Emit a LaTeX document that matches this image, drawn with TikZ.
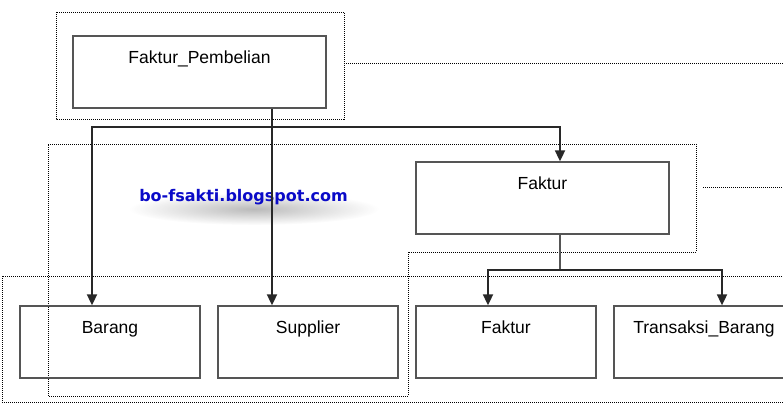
\documentclass[tikz,border=0pt]{standalone}
\usepackage{fontspec}
\setmainfont{Liberation Sans}
\newfontfamily\wmfont{DejaVu Sans}
\usetikzlibrary{arrows.meta,fadings}
\definecolor{boxc}{RGB}{85,85,85}
\definecolor{linec}{RGB}{40,40,40}
\definecolor{wmblue}{RGB}{10,10,200}
\tikzfading[name=fuzzyglow, inner color=transparent!0, outer color=transparent!100]
\begin{document}
\begin{tikzpicture}[x=1pt,y=-1pt,
  box/.style={draw=boxc, line width=1.3pt, inner sep=0pt, minimum height=72pt},
  lab/.style={anchor=center, yshift=-21.5pt, font=\fontsize{17.5}{20}\selectfont, text height=12.5pt, text depth=0pt, inner sep=0pt},
  grp/.style={draw=black, line width=0.9pt, dash pattern=on 1pt off 1pt},
  conn/.style={draw=linec, line width=1.8pt},
  arr/.style={conn, -{Triangle[width=10pt,length=11pt]}},
  wm/.style={font=\wmfont\bfseries\fontsize{16}{18}\selectfont, inner sep=0pt}]
\useasboundingbox (0,0) rectangle (783,411);
\clip (0,0) rectangle (783,411);

% dotted groups
\draw[grp] (56,12) rectangle (344,119);
\draw[grp] (48,144) -- (696,144) -- (696,252) -- (408,252) -- (408,396) -- (48,396) -- cycle;
\draw[grp] (2,276) rectangle (800,402);
\coordinate (g1e) at (344,63);
\coordinate (g1x) at (783,63);
\coordinate (g2e) at (703,187);
\coordinate (g2x) at (783,187);
\draw[grp] (g1e) -- (g1x);
\draw[grp] (g2e) -- (g2x);

% watermark with soft shadow
\fill[black!60, opacity=0.45, path fading=fuzzyglow] (254,209) ellipse (125 and 16);
\node[wm, text=wmblue] (wm) at (243.5,197) {bo-fsakti.blogspot.com};

% boxes
\node[box, minimum width=253pt, label={[lab]90:Faktur\_Pembelian}] (fp) at (199.5,72) {};
\node[box, minimum width=253pt, label={[lab]90:Faktur}] (fak) at (542.5,198) {};
\node[box, minimum width=180pt, label={[lab]90:Barang}] (bar) at (110,342) {};
\node[box, minimum width=180pt, label={[lab]90:Supplier}] (sup) at (308,342) {};
\node[box, minimum width=180pt, label={[lab]90:Faktur}] (fak2) at (506,342) {};
\node[box, minimum width=180pt, label={[lab]90:Transaksi\_Barang}] (tb) at (704,342) {};

% connectors from Faktur_Pembelian
\coordinate (jx) at (272,127);
\coordinate (jl) at (92,127);
\coordinate (jr) at (560,127);
\draw[arr] (fp.south -| jx) -- (sup.north -| jx);
\draw[arr] (jx) -- (jl) -- (bar.north -| jl);
\draw[arr] (jx) -- (jr) -- (fak.north -| jr);

% connectors from Faktur
\coordinate (k) at (560,270);
\coordinate (kl) at (488,270);
\coordinate (kr) at (722,270);
\draw[draw=boxc, line width=1.4pt] (fak.south -| k) -- (k);
\draw[arr] (k) -- (kl) -- (fak2.north -| kl);
\draw[arr] (k) -- (kr) -- (tb.north -| kr);
\end{tikzpicture}
\end{document}
